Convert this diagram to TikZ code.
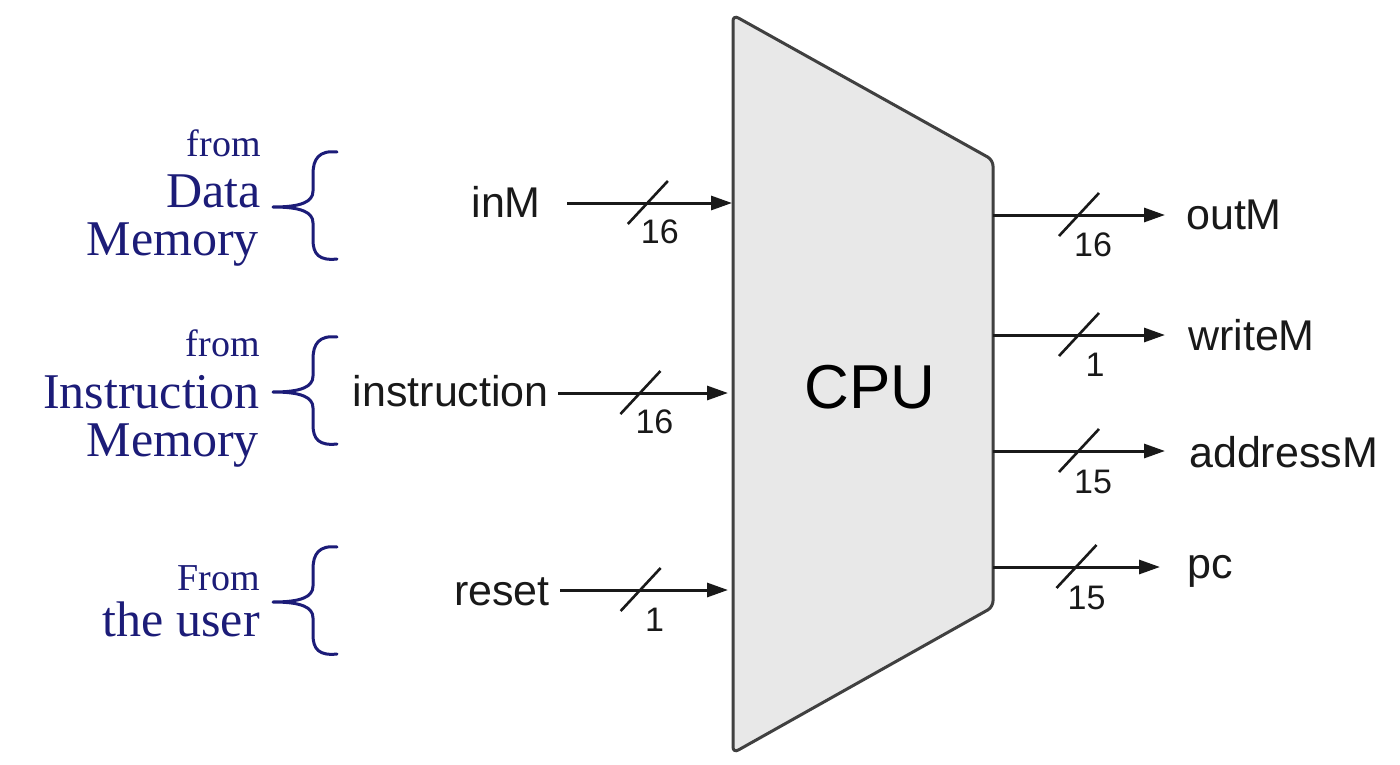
\documentclass[tikz,border=0pt]{standalone}
\usepackage{fontspec}
\setmainfont{Liberation Serif}
\newfontfamily\labelsans{Liberation Sans}
\usetikzlibrary{arrows.meta}
\definecolor{navyb}{RGB}{28,28,120}
\definecolor{cpufill}{RGB}{232,232,232}
\definecolor{cpuedge}{RGB}{64,64,64}
\definecolor{wirec}{RGB}{25,25,25}
\tikzset{
  wire/.style={draw=wirec, line width=3pt, -{Triangle[length=21pt,width=14pt]}},
  slashline/.style={draw=wirec, line width=2.6pt},
  busnum/.style={font=\labelsans\fontsize{34}{40}\selectfont, text=wirec, inner sep=0pt},
  sig/.style={font=\labelsans\fontsize{43}{50}\selectfont, text=wirec, inner sep=0pt},
  srcsmall/.style={font=\fontsize{38}{44}\selectfont, text=navyb, inner sep=0pt, anchor=base east},
  srcbig/.style={font=\fontsize{50}{58}\selectfont, text=navyb, inner sep=0pt, anchor=base east},
  bracestyle/.style={draw=navyb, line width=3pt, line cap=round, line join=round},
  pics/cbrace/.style={code={
    \draw[bracestyle] (64,-55) .. controls (46,-57) and (40,-48) .. (40,-33) -- (40,-16)
      .. controls (40,-5) and (28,0) .. (0,0)
      .. controls (28,0) and (40,5) .. (40,16) -- (40,33)
      .. controls (40,47) and (46,54) .. (64,52);
  }},
  pics/busslash/.style={code={
    \draw[slashline] (-20,21) -- (20,-22);
  }}
}
\begin{document}
\begin{tikzpicture}[x=1pt,y=-1pt]
\useasboundingbox[fill=white] (0,0) rectangle (1400,765);

% CPU body
\draw[fill=cpufill, draw=cpuedge, line width=3pt, rounded corners=6pt]
  (733,15) -- (993,160) -- (993,607) -- (733,753) -- cycle;
\node[font=\labelsans\fontsize{62}{70}\selectfont, text=black] (cpu) at (870,387) {CPU};

% input ports on the CPU edge
\coordinate (pinM) at (732,203);
\coordinate (pinstr) at (728,393);
\coordinate (preset) at (728,590);
% output ports on the CPU edge
\coordinate (poutM) at (993,215);
\coordinate (pwriteM) at (993,335);
\coordinate (paddressM) at (993,451);
\coordinate (ppc) at (993,567);

% input wires
\coordinate (sinM) at (567,203);
\coordinate (sinstr) at (558,393);
\coordinate (sreset) at (560,590);
\node[sig, anchor=base east] (linM) at (541,217) {inM};
\node[sig, anchor=base east] (linstr) at (549,406) {instruction};
\node[sig, anchor=base east] (lreset) at (550,605) {reset};

\draw[wire] (sinM) -- coordinate[pos=0.49] (cinM) (pinM);
\draw[wire] (sinstr) -- coordinate[pos=0.485] (cinstr) (pinstr);
\draw[wire] (sreset) -- coordinate[pos=0.48] (creset) (preset);
\pic at (cinM) {busslash};
\pic at (cinstr) {busslash};
\pic at (creset) {busslash};
\node[busnum] (ninM) at ([shift={(12,29)}]cinM) {16};
\node[busnum] (ninstr) at ([shift={(14,29)}]cinstr) {16};
\node[busnum] (nreset) at ([shift={(14,30)}]creset) {1};

% output wires
\coordinate (toutM) at (1165,215);
\coordinate (twriteM) at (1165,335);
\coordinate (taddressM) at (1165,451);
\coordinate (tpc) at (1160,567);
\draw[wire] (poutM) -- coordinate[pos=0.5] (coutM) (toutM);
\draw[wire] (pwriteM) -- coordinate[pos=0.5] (cwriteM) (twriteM);
\draw[wire] (paddressM) -- coordinate[pos=0.5] (caddressM) (taddressM);
\draw[wire] (ppc) -- coordinate[pos=0.5] (cpc) (tpc);
\pic at (coutM) {busslash};
\pic at (cwriteM) {busslash};
\pic at (caddressM) {busslash};
\pic at (cpc) {busslash};
\node[busnum] (noutM) at ([shift={(14,30)}]coutM) {16};
\node[busnum] (nwriteM) at ([shift={(16,30)}]cwriteM) {1};
\node[busnum] (naddressM) at ([shift={(14,31)}]caddressM) {15};
\node[busnum] (npc) at ([shift={(10,31)}]cpc) {15};

\node[sig, anchor=base west] (loutM) at (1186,229) {outM};
\node[sig, anchor=base west] (lwriteM) at (1188,350) {writeM};
\node[sig, anchor=base west] (laddressM) at (1189,467) {addressM};
\node[sig, anchor=base west] (lpc) at (1187,578) {pc};

% source annotations
\node[srcsmall] (f1a) at (261,157) {from};
\node[srcbig] (f1b) at (261,207) {Data};
\node[srcbig] (f1c) at (259,255) {Memory};
\pic at (273,207) {cbrace};

\node[srcsmall] (f2a) at (260,356) {from};
\node[srcbig] (f2b) at (260,408) {Instruction};
\node[srcbig] (f2c) at (259,456) {Memory};
\pic at (273,392) {cbrace};

\node[srcsmall] (f3a) at (260,590) {From};
\node[srcbig] (f3b) at (260,636) {the user};
\pic at (273,602) {cbrace};
\end{tikzpicture}
\end{document}
